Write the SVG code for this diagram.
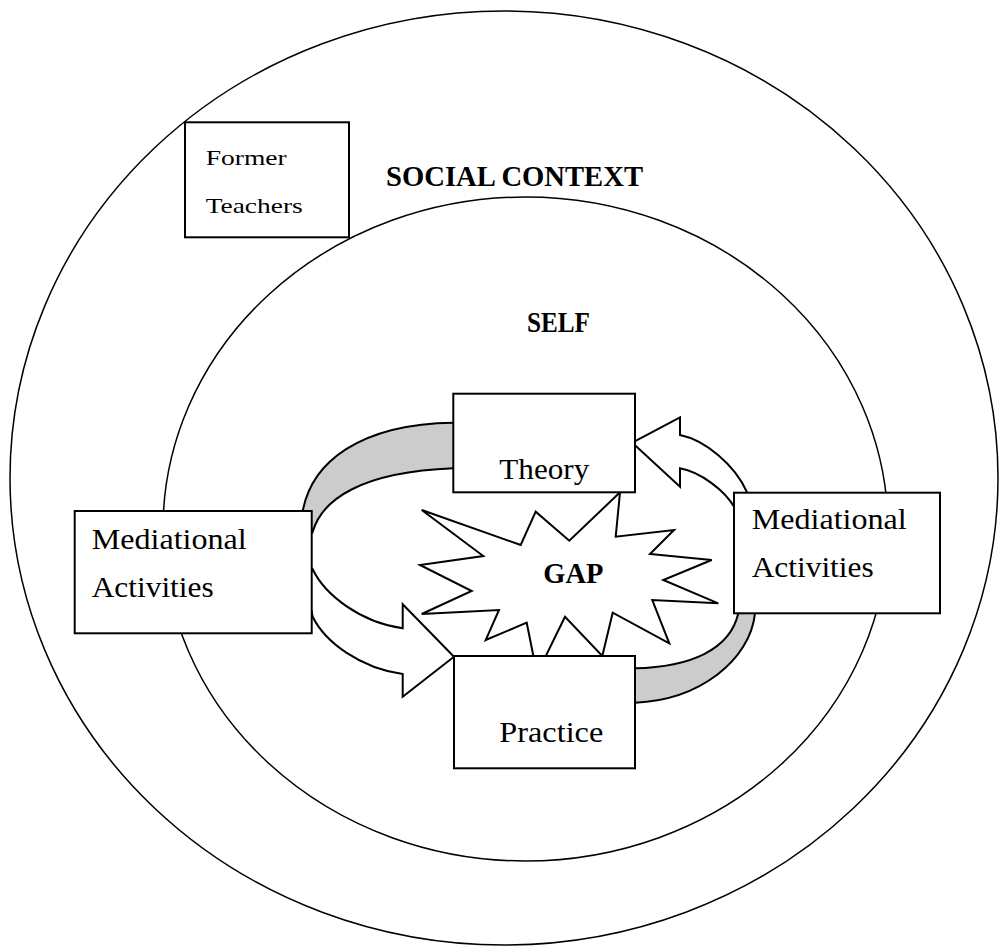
<svg xmlns="http://www.w3.org/2000/svg" width="1003" height="950" viewBox="0 0 1003 950">
<style>
.ring{fill:none;stroke:#000;stroke-width:1.5}
.box{fill:#fff;stroke:#000;stroke-width:2}
.band{fill:#cccccc;stroke:#000;stroke-width:2;stroke-linejoin:miter}
.arr{fill:#fff;stroke:#000;stroke-width:2;stroke-linejoin:miter}
.star{fill:#fff;stroke:#000;stroke-width:2;stroke-linejoin:miter}
.t{font-family:"Liberation Serif","Times New Roman",serif;fill:#000}
.b{font-family:"Liberation Serif","Times New Roman",serif;font-weight:bold;fill:#000}
</style>
<rect width="1003" height="950" fill="#fff"/>
<g id="social-context">
<ellipse class="ring" cx="504" cy="478" rx="494" ry="467"/>
<text class="b" x="386" y="186" font-size="29" textLength="257" lengthAdjust="spacingAndGlyphs">SOCIAL CONTEXT</text>
</g>
<g id="self">
<ellipse class="ring" cx="525.5" cy="529" rx="362.5" ry="332"/>
<text class="b" x="527" y="332" font-size="29" textLength="63" lengthAdjust="spacingAndGlyphs">SELF</text>
</g>
<g id="connectors">
<path class="band" d="M302.7,511 C312,462 360,424 453.3,422.7 L460,422.7 L460,468.3 L453.3,468.3 C360,472 322,500 312.7,531.7 Z"/>
<path class="arr" d="M632.3,442.7 L680,417.3 L680,435 C705,440 735,465 746.7,491.7 L747,505 L735,508.3 C725,490 700,472 680,468.3 L680,486.7 Z"/>
<path class="arr" d="M454,656.7 L402.7,604.3 L402.7,628.3 C360,622 325,595 312.7,569.3 L305,580 L312.7,616.7 C325,642 360,668 402.7,674 L402.7,696.7 Z"/>
<path class="band" d="M755,613.3 C750,660 700,700 635,702.7 L625,702.7 L625,668.3 L635,668.3 C690,667 730,650 738.3,613.3 L745,605 Z"/>
</g>
<g id="gap">
<polygon class="star" points="421.7,510 520.7,545 535.7,511.7 569.3,540.7 620,492.3 615.7,536.7 674,530 650,554 711.7,560 663.3,580 718.3,603.3 652.3,600 669.3,643.3 612.7,612.7 602.3,656 565,616.7 537,674 526.7,622.7 485.7,640 499,610 421.7,614 471.7,591 420,565 483.3,556"/>
<text class="b" x="543.3" y="583.3" font-size="29" textLength="60" lengthAdjust="spacingAndGlyphs">GAP</text>
</g>
<g id="former-teachers">
<rect class="box" x="185" y="122.3" width="164" height="115" stroke-width="1.5"/>
<text class="t" x="205.7" y="165" font-size="22" textLength="81" lengthAdjust="spacingAndGlyphs">Former</text>
<text class="t" x="205.7" y="212.7" font-size="22" textLength="97" lengthAdjust="spacingAndGlyphs">Teachers</text>
</g>
<g id="theory">
<rect class="box" x="453.3" y="393.7" width="181.7" height="98.6"/>
<text class="t" x="499.3" y="479.3" font-size="29" textLength="90" lengthAdjust="spacingAndGlyphs">Theory</text>
</g>
<g id="practice">
<rect class="box" x="454" y="656" width="181" height="112.3"/>
<text class="t" x="499.3" y="741.7" font-size="29" textLength="104" lengthAdjust="spacingAndGlyphs">Practice</text>
</g>
<g id="mediational-left">
<rect class="box" x="74.7" y="511" width="237" height="122.3"/>
<text class="t" x="91.7" y="549.3" font-size="29" textLength="155" lengthAdjust="spacingAndGlyphs">Mediational</text>
<text class="t" x="91.7" y="596.7" font-size="29" textLength="122" lengthAdjust="spacingAndGlyphs">Activities</text>
</g>
<g id="mediational-right">
<rect class="box" x="734" y="492.7" width="206" height="120.6"/>
<text class="t" x="751.7" y="529.3" font-size="29" textLength="155" lengthAdjust="spacingAndGlyphs">Mediational</text>
<text class="t" x="751.7" y="576.7" font-size="29" textLength="122" lengthAdjust="spacingAndGlyphs">Activities</text>
</g>
</svg>
